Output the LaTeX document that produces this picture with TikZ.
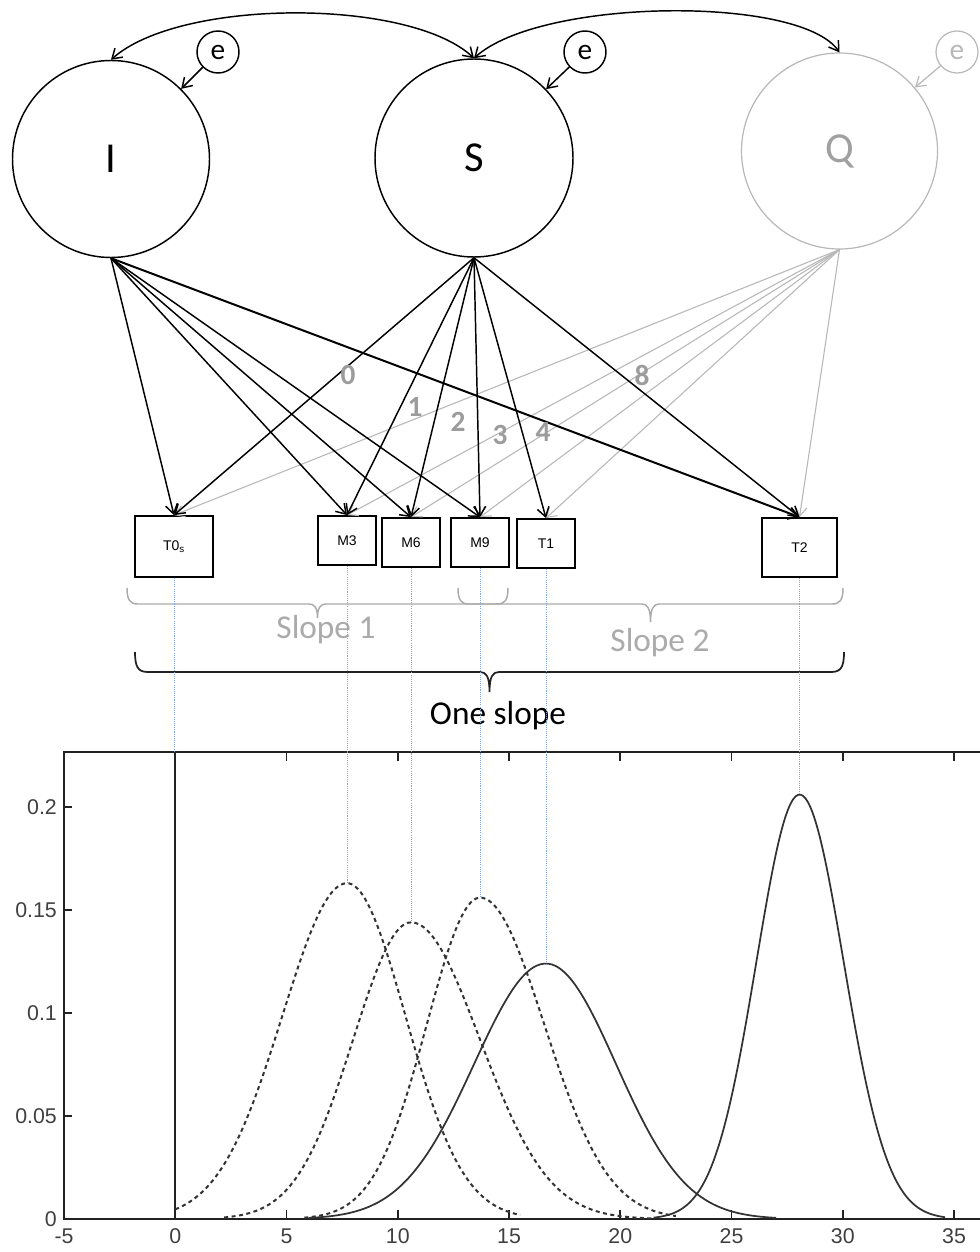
\documentclass[tikz,border=0pt]{standalone}
\usepackage{fontspec}
\setmainfont{Carlito}
\newfontfamily\arialf{Liberation Sans}
\usetikzlibrary{arrows.meta}
\definecolor{lg}{HTML}{B8B8B8}
\definecolor{qg}{HTML}{A0A0A0}
\definecolor{lblg}{HTML}{9C9C9C}
\definecolor{slg}{HTML}{ABABAB}
\definecolor{dotblue}{HTML}{7FA8D8}
\definecolor{axc}{HTML}{222222}
\definecolor{tickc}{HTML}{404040}
\definecolor{crv}{HTML}{333333}
\newcommand{\agz}[5]{#2*exp(-((#1-#3)*(#1-#3))/(2*(((#1<#3)*#4+(#1>=#3)*#5)^2)))}
\begin{document}
\begin{tikzpicture}[x=0.75pt,y=-0.75pt,
  tip/.style={-{Straight Barb[length=7pt,width=9pt]}},
  biarrow/.style={{Straight Barb[length=7pt,width=9pt]}-{Straight Barb[length=7pt,width=9pt]},line width=1.1pt},
  latent/.style={circle,draw,line width=1.1pt,inner sep=0pt,font=\fontsize{32}{36}\selectfont},
  err/.style={circle,draw,line width=1.1pt,minimum size=31.5pt,inner sep=0pt,font=\fontsize{22}{24}\selectfont},
  obs/.style={draw,line width=1.3pt,inner sep=0pt,font=\arialf\fontsize{10.5}{12}\selectfont},
  small/.style={obs,minimum width=43.5pt,minimum height=36.75pt},
  load/.style={tip,line width=1.1pt},
  qload/.style={tip,line width=0.8pt,draw=lg},
  num/.style={text=lblg,font=\bfseries\fontsize{22}{24}\selectfont},
  slopebrace/.style={draw=slg,line width=1.1pt},
  onebrace/.style={draw=axc,line width=1.3pt},
  slopetext/.style={text=slg,font=\fontsize{25}{30}\selectfont},
  dotl/.style={draw=dotblue,line width=0.7pt,dash pattern=on 0.8pt off 0.8pt},
  ticklab/.style={text=tickc,inner sep=0pt,font=\arialf\fontsize{16}{18}\selectfont},
  dashcurve/.style={draw=crv,line width=1.5pt,dash pattern=on 3pt off 2.6pt,samples=120,smooth},
  solidcurve/.style={draw=crv,line width=1.3pt,samples=120,smooth}
]
\useasboundingbox (0,0) rectangle (979,1252);
\fill[white] (0,0) rectangle (979,1252);

% latent variables
\node[latent,minimum size=147.75pt] (I) at (111,159) {I};
\node[latent,minimum size=148.5pt] (S) at (474,158) {S};
\node[latent,minimum size=147pt,draw=lg,line width=0.9pt,text=qg] (Q) at (839.5,151) {Q};

% error terms
\node[err] (e1) at (218,52) {e};
\node[err] (e2) at (585,52) {e};
\node[err,draw=lg,line width=0.9pt,text=lg] (e3) at (957,52) {e};
\draw[tip,line width=1.1pt] (e1) -- (I);
\draw[tip,line width=1.1pt] (e2) -- (S);
\draw[tip,line width=0.9pt,draw=lg] (e3) -- (Q);

% covariances
\draw[biarrow] (I.north) .. controls (180,-2) and (410,-2) .. (S.north);
\draw[biarrow] (S.north) .. controls (540,-2) and (800,-5) .. (Q.north);

% observed
\node[obs,minimum width=58.5pt,minimum height=45.75pt] (T0s) at (174,546.5) {T0\textsubscript{s}};
\node[small] (M3) at (347,540.5) {M3};
\node[small] (M6) at (411,542.5) {M6};
\node[small] (M9) at (480,542.5) {M9};
\node[small] (T1) at (546,543.5) {T1};
\node[obs,minimum width=56.25pt,minimum height=44.25pt] (T2) at (799.5,547.5) {T2};

% loadings
\foreach \b in {T0s,M3,M6,M9,T1,T2} \draw[qload] (Q.south) -- (\b.north);
\foreach \b in {T0s,M3,M6,M9} \draw[load] (I.south) -- (\b.north);
\draw[load,line width=1.5pt] (I.south) -- (T2.north);
\foreach \b in {T0s,M3,M6,M9,T1,T2} \draw[load] (S.south) -- (\b.north);

% loading values
\node[num] (n0) at (348,375) {0};
\node[num] (n1) at (415,407) {1};
\node[num] (n2) at (458,422) {2};
\node[num] (n3) at (500,435) {3};
\node[num] (n4) at (543,432) {4};
\node[num] (n8) at (642,375) {8};

% braces
\path[slopebrace] (127,588) .. controls (127,600) and (130,604) .. (138,604) -- (309,604)
  .. controls (314,604) and (317.5,607) .. (317.5,618) .. controls (317.5,607) and (321,604) .. (326,604)
  -- (497,604) .. controls (505,604) and (508,600) .. (508,588);
\path[slopebrace] (458,588) .. controls (458,600) and (461,604) .. (469,604) -- (642,604)
  .. controls (647,604) and (650.5,608) .. (650.5,622) .. controls (650.5,608) and (654,604) .. (659,604)
  -- (832,604) .. controls (840,604) and (843,600) .. (843,588);
\path[onebrace] (135,652) .. controls (135,667) and (138,672) .. (148,672) -- (480,672)
  .. controls (486,672) and (489.5,676) .. (489.5,692) .. controls (489.5,676) and (493,672) .. (499,672)
  -- (831,672) .. controls (841,672) and (844,667) .. (844,652);
\node[slopetext] (s1) at (326,630) {Slope 1};
\node[slopetext] (s2) at (660,643) {Slope 2};
\node[font=\fontsize{25}{30}\selectfont,text=black] (s0) at (498,716) {One slope};

% plot
\begin{scope}[shift={(175.25,1219)},x=16.6875pt,y=1545pt]
  \coordinate (topzero) at (0,0.2267);
  \coordinate (pk1) at (7.72,0.163);
  \coordinate (pk2) at (10.6,0.144);
  \coordinate (pk3) at (13.7,0.156);
  \coordinate (pk4) at (16.66,0.124);
  \coordinate (pk5) at (28.06,0.206);
  \draw[axc,line width=1.4pt] (36.3,0.2267) -- (-5,0.2267) -- (-5,0) -- (36.3,0);
  \draw[axc,line width=2.2pt] (-2,0) -- (36.3,0);
  \draw[axc,line width=1.4pt] (0,0) -- (topzero);
  \foreach \v in {5,10,...,35} {
    \draw[axc,line width=1.2pt] (\v,0) -- (\v,0.0045);
    \draw[axc,line width=1.2pt] (\v,0.2267) -- (\v,0.2222);
  }
  \foreach \p in {0.05,0.1,0.15,0.2} \draw[axc,line width=1.2pt] (-5,\p) -- (-4.64,\p);
  \foreach \v in {-5,0,5,10,15,20,25,30,35} \node[ticklab,anchor=north] at (\v,-0.0045) {\v};
  \foreach \p/\t in {0/0,0.05/0.05,0.1/0.1,0.15/0.15,0.2/0.2} \node[ticklab,anchor=east] at (-5.31,\p) {\t};
  \draw[dashcurve] plot[domain=0:15.5] (\x,{\agz{\x}{0.163}{7.72}{2.9}{2.62}});
  \draw[dashcurve] plot[domain=2.2:21.5] (\x,{\agz{\x}{0.144}{10.6}{2.6}{3.09}});
  \draw[dashcurve] plot[domain=5.8:22.5] (\x,{\agz{\x}{0.156}{13.7}{2.39}{2.88}});
  \draw[solidcurve] plot[domain=6:27] (\x,{\agz{\x}{0.124}{16.66}{3.23}{3.15}});
  \draw[solidcurve] plot[domain=21.5:34.6] (\x,{\agz{\x}{0.206}{28.06}{1.94}{1.98}});
\end{scope}

% guide lines
\draw[dotl] (T0s.south) -- (T0s.south |- topzero);
\draw[dotl] (M3.south) -- (M3.south |- pk1);
\draw[dotl] (M6.south) -- (M6.south |- pk2);
\draw[dotl] (M9.south) -- (M9.south |- pk3);
\draw[dotl] (T1.south) -- (T1.south |- pk4);
\draw[dotl] (T2.south) -- (T2.south |- pk5);
\end{tikzpicture}
\end{document}
